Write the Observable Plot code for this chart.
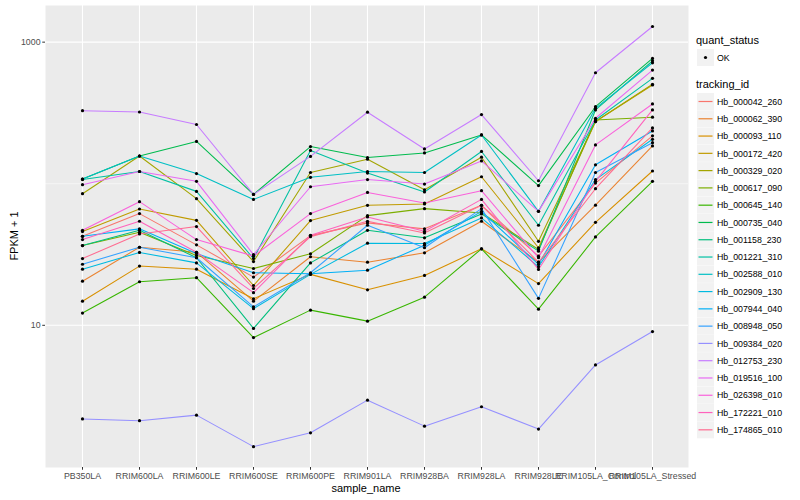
<!DOCTYPE html>
<html><head><meta charset="utf-8">
<script src="https://cdn.jsdelivr.net/npm/d3@7"></script>
<script src="https://cdn.jsdelivr.net/npm/@observablehq/plot@0.6"></script>
<style>
body{margin:0;background:#fff;font-family:"Liberation Sans",Arial,Helvetica,sans-serif;}
#wrap{position:relative;width:800px;height:500px;overflow:hidden;}
#chart{position:absolute;left:0;top:0;}
#legend{position:absolute;left:0;top:0;}
</style></head>
<body><div id="wrap"><div id="chart"></div><svg id="legend" width="800" height="500"></svg></div>
<script>
const samples = ["PB350LA","RRIM600LA","RRIM600LE","RRIM600SE","RRIM600PE","RRIM901LA","RRIM928BA","RRIM928LA","RRIM928LE","RRIM105LA_Control","RRIM105LA_Stressed"];
const trackingIds = ["Hb_000042_260","Hb_000062_390","Hb_000093_110","Hb_000172_420","Hb_000329_020","Hb_000617_090","Hb_000645_140","Hb_000735_040","Hb_001158_230","Hb_001221_310","Hb_002588_010","Hb_002909_130","Hb_007944_040","Hb_008948_050","Hb_009384_020","Hb_012753_230","Hb_019516_100","Hb_026398_010","Hb_172221_010","Hb_174865_010"];
const colors = ["#F8766D","#EA8331","#D89000","#C09B00","#A3A500","#7CAE00","#39B600","#00BB4E","#00BF7D","#00C1A3","#00BFC4","#00BAE0","#00B0F6","#35A2FF","#9590FF","#C77CFF","#E76BF3","#FA62DB","#FF62BC","#FF6C91"];
const quantStatus = ["OK"];

// FPKM + 1 per sample (order of `samples`)
const Hb_000042_260 = [42.5, 61.5, 37.0, 21.9, 43.0, 52.9, 48.0, 70.4, 30.8, 101, 218];
const Hb_000062_390 = [20.5, 35.6, 32.8, 14.8, 30.5, 27.9, 32.5, 54.3, 27.9, 70.6, 185];
const Hb_000093_110 = [14.8, 26.2, 24.9, 15.4, 22.9, 17.8, 22.5, 34.7, 19.7, 53.4, 123];
const Hb_000172_420 = [45.9, 66.3, 55.1, 19.1, 54.9, 70.4, 71.9, 112, 35.3, 275, 498];
const Hb_000329_020 = [85, 157, 78.4, 28.2, 120, 149, 90.7, 154, 39.2, 275, 504];
const Hb_000617_090 = [36.6, 45.4, 31.1, 25.2, 32.0, 59.5, 66.7, 62.2, 34.3, 282, 295];
const Hb_000645_140 = [12.2, 20.3, 21.7, 8.19, 12.8, 10.7, 15.8, 34.7, 13.0, 42.1, 104];
const Hb_000735_040 = [108, 157, 199, 84, 183, 153, 165, 221, 97, 350, 768];
const Hb_001158_230 = [36.6, 46.9, 30.0, 9.5, 27.6, 46.9, 41.5, 61.2, 33.4, 332, 738];
const Hb_001221_310 = [107, 122, 88.3, 29.6, 172, 119, 87.4, 169, 50.9, 282, 555];
const Hb_002588_010 = [108, 157, 118, 77.5, 111, 122, 120, 221, 63.8, 341, 715];
const Hb_002909_130 = [24.9, 32.7, 27.6, 13.1, 22.9, 38.0, 37.8, 57.3, 25.9, 107, 206];
const Hb_007944_040 = [42.5, 48.0, 32.1, 23.5, 23.1, 24.5, 36.8, 63.8, 26.9, 136, 236];
const Hb_008948_050 = [27.0, 35.6, 30.0, 13.5, 23.5, 50.9, 35.3, 66.7, 15.5, 120, 195];
const Hb_009384_020 = [2.18, 2.12, 2.32, 1.39, 1.74, 2.96, 1.94, 2.66, 1.85, 5.25, 9.03];
const Hb_012753_230 = [328, 321, 262, 84, 156, 320, 176, 308, 105, 608, 1290];
const Hb_019516_100 = [98.4, 122, 104, 31.6, 95.2, 107, 99.5, 145, 63.8, 290, 635];
const Hb_026398_010 = [46.9, 74.7, 40.3, 30.8, 61.5, 86.8, 73.1, 89.3, 30.0, 188, 366];
const Hb_172221_010 = [40.3, 54.3, 32.8, 17.0, 43.2, 58.3, 46.1, 77.5, 24.8, 104, 332];
const Hb_174865_010 = [29.6, 44.2, 49.8, 18.2, 42.3, 54.3, 44.9, 70.4, 27.9, 92.2, 248];

const yTicks = [10, 1000];

const seriesValues = [Hb_000042_260,Hb_000062_390,Hb_000093_110,Hb_000172_420,Hb_000329_020,Hb_000617_090,Hb_000645_140,Hb_000735_040,Hb_001158_230,Hb_001221_310,Hb_002588_010,Hb_002909_130,Hb_007944_040,Hb_008948_050,Hb_009384_020,Hb_012753_230,Hb_019516_100,Hb_026398_010,Hb_172221_010,Hb_174865_010];

const data = [];
trackingIds.forEach((id, i) => seriesValues[i].forEach((v, j) => data.push({tracking_id: id, sample_name: samples[j], fpkm1: v, quant_status: quantStatus[0]})));

const font = '"Liberation Sans",Arial,Helvetica,sans-serif';

const plot = Plot.plot({
  width: 690, height: 500,
  marginLeft: 45, marginRight: 2, marginTop: 5, marginBottom: 33,
  style: {fontFamily: font, fontSize: "8.8px", color: "#4D4D4D", background: "transparent", overflow: "visible"},
  x: {type: "point", domain: samples, padding: 0.6, label: null},
  y: {type: "log", domain: [0.99, 1815], label: null},
  color: {domain: trackingIds, range: colors},
  marks: [
    Plot.frame({fill: "#EBEBEB", stroke: "none"}),
    Plot.ruleY([100], {stroke: "white", strokeWidth: 0.55}),
    Plot.ruleY(yTicks, {stroke: "white", strokeWidth: 1.1}),
    Plot.ruleX(samples, {stroke: "white", strokeWidth: 1.1}),
    Plot.line(data, {x: "sample_name", y: "fpkm1", stroke: "tracking_id", z: "tracking_id", strokeWidth: 1.07}),
    Plot.dot(data, {x: "sample_name", y: "fpkm1", fill: "black", r: 1.6}),
    Plot.axisX({tickSize: 2.75, tickPadding: 2.2, stroke: "#333333", fill: "#4D4D4D", label: null}),
    Plot.axisY({ticks: yTicks, tickFormat: d => String(d), tickSize: 2.75, tickPadding: 2.2, stroke: "#333333", fill: "#4D4D4D", label: null})
  ]
});
document.getElementById("chart").appendChild(plot);

const svg = d3.select(plot);
svg.append("text").attr("transform", "translate(14,236) rotate(-90)").attr("text-anchor", "middle")
  .attr("dy", "0.35em").attr("fill", "black").style("font-size", "11px").style("font-family", font).text("FPKM + 1");
svg.append("text").attr("x", 366).attr("y", 488).attr("text-anchor", "middle").attr("dy", "0.35em")
  .attr("fill", "black").style("font-size", "11px").style("font-family", font).text("sample_name");

// legend
const lg = d3.select("#legend").style("font-family", font);
lg.append("text").attr("x", 696).attr("y", 40).attr("dy", "0.35em").style("font-size", "11px").attr("fill", "black").text("quant_status");
lg.append("rect").attr("x", 697).attr("y", 49).attr("width", 17).attr("height", 17).attr("fill", "#F2F2F2");
lg.append("circle").attr("cx", 705.5).attr("cy", 57.5).attr("r", 1.6).attr("fill", "black");
lg.append("text").attr("x", 717).attr("y", 57.5).attr("dy", "0.35em").style("font-size", "8.8px").attr("fill", "black").text(quantStatus[0]);
lg.append("text").attr("x", 696).attr("y", 84).attr("dy", "0.35em").style("font-size", "11px").attr("fill", "black").text("tracking_id");
trackingIds.forEach((id, i) => {
  const top = 93 + i * 17.28;
  lg.append("rect").attr("x", 697).attr("y", top).attr("width", 17).attr("height", 17).attr("fill", "#F2F2F2");
  lg.append("line").attr("x1", 698.5).attr("x2", 712.5).attr("y1", top + 8.5).attr("y2", top + 8.5).attr("stroke", colors[i]).attr("stroke-width", 1.2);
  lg.append("text").attr("x", 717).attr("y", top + 8.6).attr("dy", "0.35em").style("font-size", "8.8px").attr("fill", "black").text(id);
});
</script>
</body></html>
